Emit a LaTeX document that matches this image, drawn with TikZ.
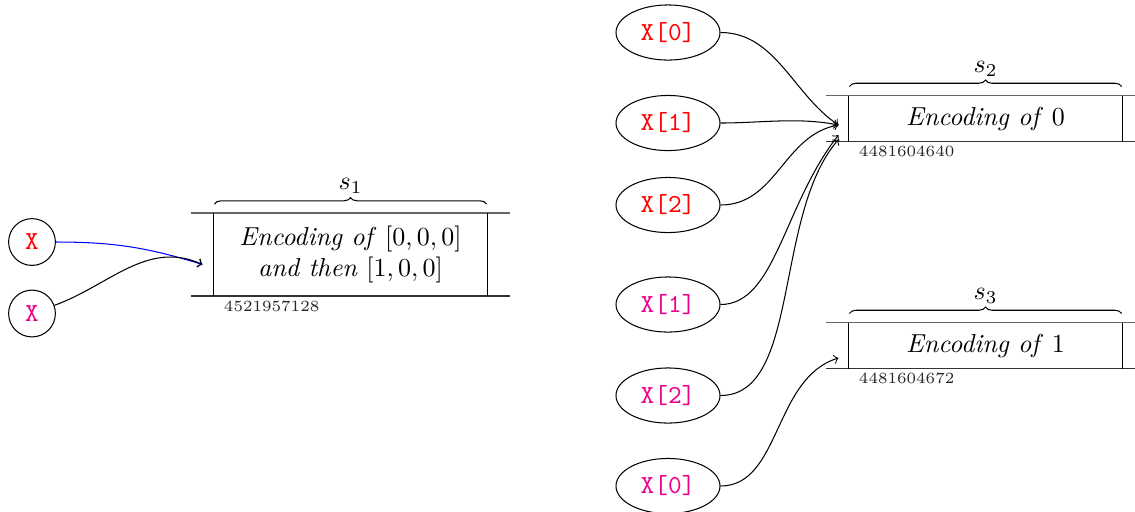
\documentclass[tikz,border=0pt]{standalone}
\usetikzlibrary{decorations.pathreplacing,calc,shapes.geometric}
\definecolor{xred}{RGB}{255,0,0}
\definecolor{xmag}{RGB}{236,0,140}
\begin{document}
\begin{tikzpicture}[x=0.3846pt, y=-0.3846pt,
  var/.style={circle, draw, minimum size=18pt, inner sep=0pt, font=\ttfamily},
  elt/.style={ellipse, draw, minimum width=40pt, minimum height=21.2pt, inner sep=0pt, font=\ttfamily},
  cellbox/.style={inner sep=0pt, align=center, minimum width=105pt},
  topline/.style={draw=black!60, line width=0.75pt},
  botline/.style={draw=black!80, line width=0.5pt},
  side/.style={draw=black, line width=0.5pt},
  addr/.style={font=\fontsize{6}{7}\selectfont, text=black!85, anchor=west, inner sep=0pt},
  brc/.style={decorate, decoration={brace, amplitude=2.5pt}},
  arr/.style={->},
]
\useasboundingbox (0,0) rectangle (1135,511);

% ---------- left part ----------
\node[var, text=xred] (x1) at (32,242) {X};
\node[var, text=xmag] (x2) at (32,313.5) {X};

\node[cellbox, minimum height=31.5pt] (c1) at (350.5,254.5)
  {\textit{Encoding of} $[0,0,0]$\\ \textit{and then} $[1,0,0]$};
\draw[topline] ($(c1.north west)+(-22,0)$) -- ($(c1.north east)+(22,0)$);
\draw[botline] ($(c1.south west)+(-22,0)$) -- ($(c1.south east)+(22,0)$);
\draw[side] (c1.north west) -- (c1.south west);
\draw[side] (c1.north east) -- (c1.south east);
\draw[brc] ($(c1.north west)+(1,-9)$) -- ($(c1.north east)+(-1,-9)$);
\node (s1) at ($(c1.north)+(0,-27)$) {$s_1$};
\node[addr] (a1) at ($(c1.south west)+(10,10)$) {4521957128};
\coordinate (t1) at ($(c1.west)+(-11,10)$);

\draw[arr, blue] (x1.east) .. controls +(58,0) and +(-55,-17) .. (t1);
\draw[arr] (x2.20) .. controls +(55,-20) and +(-55,-25) .. (t1);

% ---------- right part ----------
\node[elt, text=xred] (r0) at (668,32.5) {X[0]};
\node[elt, text=xred] (r1) at (668,123) {X[1]};
\node[elt, text=xred] (r2) at (668,205) {X[2]};
\node[elt, text=xmag] (m1) at (668,304.5) {X[1]};
\node[elt, text=xmag] (m2) at (668,395.5) {X[2]};
\node[elt, text=xmag] (m0) at (668,486) {X[0]};

\node[cellbox, minimum height=17.3pt] (c2) at (985.5,118.5) {\textit{Encoding of} $0$};
\draw[topline] ($(c2.north west)+(-22,0)$) -- ($(c2.north east)+(22,0)$);
\draw[botline] ($(c2.south west)+(-22,0)$) -- ($(c2.south east)+(22,0)$);
\draw[side] (c2.north west) -- (c2.south west);
\draw[side] (c2.north east) -- (c2.south east);
\draw[brc] ($(c2.north west)+(1,-9)$) -- ($(c2.north east)+(-1,-9)$);
\node (s2) at ($(c2.north)+(0,-27)$) {$s_2$};
\node[addr] (a2) at ($(c2.south west)+(10,10)$) {4481604640};

\node[cellbox, minimum height=17.3pt] (c3) at (985.5,345.5) {\textit{Encoding of} $1$};
\draw[topline] ($(c3.north west)+(-22,0)$) -- ($(c3.north east)+(22,0)$);
\draw[botline] ($(c3.south west)+(-22,0)$) -- ($(c3.south east)+(22,0)$);
\draw[side] (c3.north west) -- (c3.south west);
\draw[side] (c3.north east) -- (c3.south east);
\draw[brc] ($(c3.north west)+(1,-9)$) -- ($(c3.north east)+(-1,-9)$);
\node (s3) at ($(c3.north)+(0,-27)$) {$s_3$};
\node[addr] (a3) at ($(c3.south west)+(10,10)$) {4481604672};

\coordinate (t2) at ($(c2.west)+(-10,6.5)$);
\coordinate (t2b) at ($(c2.west)+(-10,16.5)$);
\coordinate (t2c) at ($(c2.west)+(-10,21)$);
\coordinate (t3) at ($(c3.west)+(-10,12.5)$);

\draw[arr] (r0.east) .. controls +(55,0) and +(-45,-30) .. (t2);
\draw[arr] (r1.east) .. controls +(40,0) and +(-40,-8) .. (t2);
\draw[arr] (r2.east) .. controls +(56,0) and +(-55,10) .. (t2);
\draw[arr] (m1.east) .. controls +(55,0) and +(-55,70) .. (t2b);
\draw[arr] (m2.east) .. controls +(80,0) and +(-65,75) .. (t2c);
\draw[arr] (m0.east) .. controls +(60,0) and +(-65,20) .. (t3);
\end{tikzpicture}
\end{document}
